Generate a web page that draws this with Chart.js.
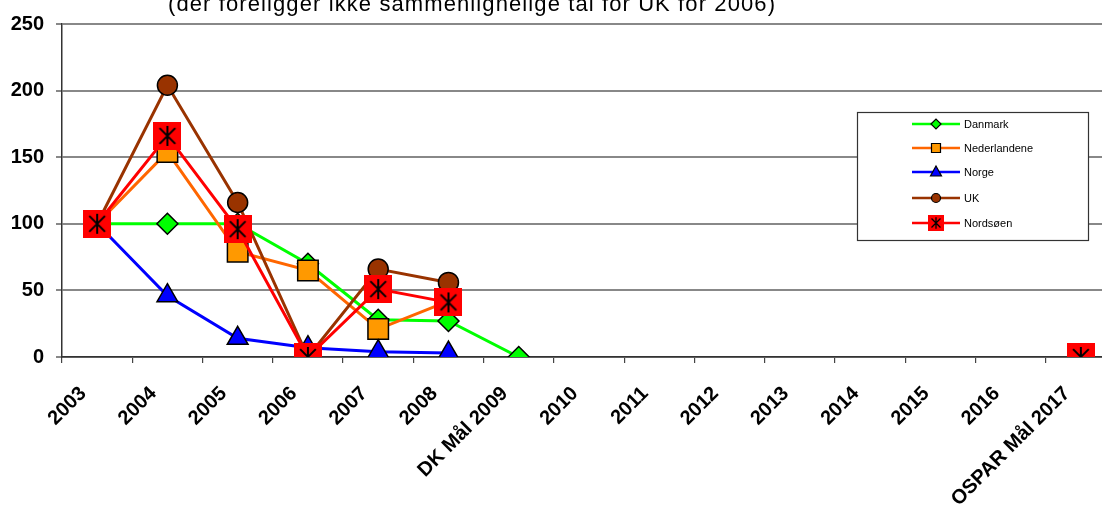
<!DOCTYPE html>
<html>
<head>
<meta charset="utf-8">
<script src="https://cdn.jsdelivr.net/npm/chart.js@4"></script>
<style>
  html, body { margin: 0; padding: 0; background: #fff; overflow: hidden; }
  #wrap { width: 1102px; height: 510px; overflow: hidden; }
</style>
</head>
<body>
<div id="wrap"><canvas id="myChart" width="1133" height="510"></canvas></div>
<script>
const categories = ['2003', '2004', '2005', '2006', '2007', '2008', 'DK Mål 2009',
  '2010', '2011', '2012', '2013', '2014', '2015', '2016', 'OSPAR Mål 2017'];

const danmark      = [100, 100, 100, 70, 28, 27, 0, null, null, null, null, null, null, null, null];
const nederlandene = [100, 154, 79, 65, 21, 42, null, null, null, null, null, null, null, null, null];
const norge        = [100, 46, 14, 7, 4, 3, null, null, null, null, null, null, null, null, null];
const uk           = [100, 204, 116, 0, 66, 56, null, null, null, null, null, null, null, null, null];
const nordsoen     = [100, 166, 96, 0, 51, 41, null, null, null, null, null, null, null, null, 0];

const yTicks = [0, 50, 100, 150, 200, 250];

const titleText = '(der foreligger ikke sammenlignelige tal for UK for 2006)';
const FONT = '"Liberation Sans", Arial, sans-serif';

// red square with black asterisk (Nordsøen marker)
function starSquare(size) {
  const c = document.createElement('canvas');
  c.width = size; c.height = size;
  const g = c.getContext('2d');
  g.fillStyle = '#ff0000';
  g.fillRect(0, 0, size, size);
  g.strokeStyle = '#000';
  g.lineWidth = size > 20 ? 2 : 1.3;
  const a = size * 0.22, b = size * 0.78;
  g.beginPath();
  g.moveTo(a, a); g.lineTo(b, b);
  g.moveTo(b, a); g.lineTo(a, b);
  g.moveTo(size / 2, size * 0.14); g.lineTo(size / 2, size * 0.86);
  g.stroke();
  return c;
}
const bigStar = starSquare(28);
const smallStar = starSquare(16);

const legendItems = [
  { label: 'Danmark', line: '#00ff00', style: 'diamond', fill: '#00ff00' },
  { label: 'Nederlandene', line: '#ff6600', style: 'square', fill: '#ff9900' },
  { label: 'Norge', line: '#0000ff', style: 'triangle', fill: '#0000ff' },
  { label: 'UK', line: '#993300', style: 'circle', fill: '#993300' },
  { label: 'Nordsøen', line: '#ff0000', style: 'star', fill: '#ff0000' }
];

function legendMarker(ctx, it, x, y) {
  ctx.save();
  ctx.fillStyle = it.fill;
  ctx.strokeStyle = '#000';
  ctx.lineWidth = 1.2;
  ctx.beginPath();
  if (it.style === 'diamond') {
    ctx.moveTo(x - 5, y); ctx.lineTo(x, y - 5); ctx.lineTo(x + 5, y); ctx.lineTo(x, y + 5); ctx.closePath();
  } else if (it.style === 'square') {
    ctx.rect(x - 4.5, y - 4.5, 9, 9);
  } else if (it.style === 'triangle') {
    ctx.moveTo(x, y - 6); ctx.lineTo(x + 5.5, y + 4); ctx.lineTo(x - 5.5, y + 4); ctx.closePath();
  } else if (it.style === 'circle') {
    ctx.arc(x, y, 4.5, 0, Math.PI * 2);
  }
  if (it.style === 'star') {
    ctx.drawImage(smallStar, x - 8, y - 8);
  } else {
    ctx.fill(); ctx.stroke();
  }
  ctx.restore();
}

const extras = {
  id: 'extras',
  afterDraw(chart) {
    const ctx = chart.ctx;
    ctx.save();
    // title, clipped at the top as in the original
    ctx.font = '22px ' + FONT;
    ctx.fillStyle = '#000';
    ctx.textAlign = 'left';
    ctx.textBaseline = 'alphabetic';
    ctx.letterSpacing = '1.1px';
    ctx.fillText(titleText, 168, 11);
    ctx.letterSpacing = '0px';

    // legend box
    const bx = 857, by = 112, bw = 231, bh = 128;
    ctx.fillStyle = '#fff';
    ctx.fillRect(bx, by, bw, bh);
    ctx.strokeStyle = '#333';
    ctx.lineWidth = 1.2;
    ctx.strokeRect(bx + 0.5, by + 0.5, bw, bh);
    const rows = [124, 148, 172, 198, 223];
    ctx.font = '11px ' + FONT;
    ctx.textBaseline = 'middle';
    legendItems.forEach((it, i) => {
      const y = rows[i];
      ctx.strokeStyle = it.line;
      ctx.lineWidth = 2.5;
      ctx.beginPath();
      ctx.moveTo(912, y); ctx.lineTo(960, y);
      ctx.stroke();
      legendMarker(ctx, it, 936, y);
      ctx.fillStyle = '#000';
      ctx.fillText(it.label, 964, y + 1);
    });
    ctx.restore();
  }
};

const ctx = document.getElementById('myChart').getContext('2d');
const chart = new Chart(ctx, {
  type: 'line',
  data: {
    labels: categories,
    datasets: [
      {
        label: 'Danmark', data: danmark, order: 5,
        borderColor: '#00ff00', borderWidth: 3,
        pointStyle: 'rectRot', pointRadius: 10.5,
        pointBackgroundColor: '#00ff00', pointBorderColor: '#000', pointBorderWidth: 1.5
      },
      {
        label: 'Nederlandene', data: nederlandene, order: 4,
        borderColor: '#ff6600', borderWidth: 3,
        pointStyle: 'rect', pointRadius: 14.5,
        pointBackgroundColor: '#ff9900', pointBorderColor: '#000', pointBorderWidth: 1.5
      },
      {
        label: 'Norge', data: norge, order: 3,
        borderColor: '#0000ff', borderWidth: 3,
        pointStyle: 'triangle', pointRadius: 12,
        pointBackgroundColor: '#0000ff', pointBorderColor: '#000', pointBorderWidth: 1.5
      },
      {
        label: 'UK', data: uk, order: 2,
        borderColor: '#993300', borderWidth: 3,
        pointStyle: 'circle', pointRadius: 10,
        pointBackgroundColor: '#993300', pointBorderColor: '#000', pointBorderWidth: 1.5
      },
      {
        label: 'Nordsøen', data: nordsoen, order: 1,
        borderColor: '#ff0000', borderWidth: 3,
        pointStyle: bigStar, pointRadius: 14
      }
    ]
  },
  options: {
    responsive: false,
    animation: false,
    spanGaps: false,
    layout: { padding: { top: 22, left: 0, right: 5, bottom: 0 } },
    plugins: {
      legend: { display: false },
      title: { display: false },
      tooltip: { enabled: false }
    },
    elements: { line: { tension: 0 } },
    scales: {
      x: {
        offset: true,
        afterFit(scale) { scale.height = 153; },
        grid: { offset: true, drawOnChartArea: false, tickLength: 6, color: '#444', lineWidth: 1.2 },
        border: { color: '#333', width: 1.5 },
        ticks: {
          autoSkip: false, maxRotation: 45, minRotation: 45, padding: 19, labelOffset: -14,
          color: '#000', font: { family: FONT, size: 20, weight: 'bold' }
        }
      },
      y: {
        min: 0, max: 250,
        afterFit(scale) { scale.width = 62; },
        afterBuildTicks(scale) { scale.ticks = yTicks.map(v => ({ value: v })); },
        grid: { color: '#888', lineWidth: 2, tickLength: 6 },
        border: { color: '#333', width: 1.5 },
        ticks: {
          padding: 12, color: '#000',
          font: { family: FONT, size: 20, weight: 'bold' }
        }
      }
    }
  },
  plugins: [extras]
});
</script>
</body>
</html>
